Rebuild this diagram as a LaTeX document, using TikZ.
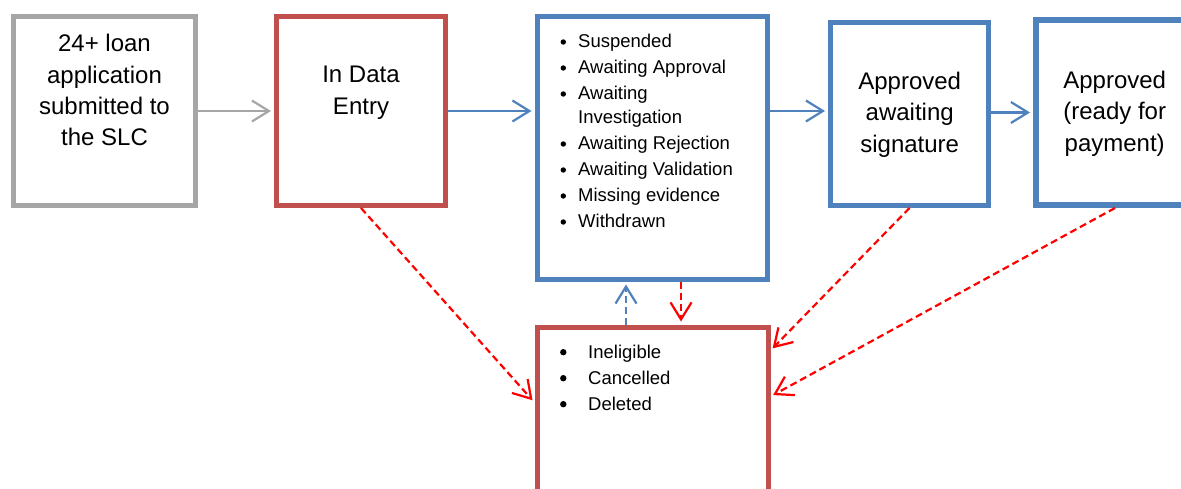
\documentclass[tikz,border=0pt]{standalone}
\usepackage{fontspec}
\setmainfont{Liberation Sans}
\usetikzlibrary{arrows.meta}
\definecolor{stategrey}{HTML}{A6A6A6}
\definecolor{statered}{HTML}{C0504D}
\definecolor{stateblue}{HTML}{4F81BD}
\definecolor{dropred}{HTML}{FF0000}

\begin{document}
\begin{tikzpicture}[x=1pt,y=-1pt,
  statebox/.style={draw,line width=5pt,inner sep=0pt},
  maintext/.style={align=center,anchor=base,inner sep=0pt,font=\fontsize{24pt}{31.3pt}\selectfont},
  listtext/.style={anchor=base west,inner sep=0pt,font=\fontsize{18.5pt}{24pt}\selectfont},
  flow/.style={line width=2.2pt,-{Straight Barb[length=17pt,width=21pt]},shorten >=3pt},
  drop/.style={flow,dropred,dash pattern=on 7pt off 4pt},
  back/.style={flow,stateblue,dash pattern=on 7pt off 4pt}]
\useasboundingbox (0,0) rectangle (1181,489);
\clip (0,0) rectangle (1181,489);
\node[statebox,stategrey,minimum width=182pt,minimum height=189pt] (submitted) at (104.5,111) {};
\node[statebox,statered,minimum width=169pt,minimum height=189pt] (entry) at (361,111) {};
\node[statebox,stateblue,minimum width=230pt,minimum height=262pt] (pending) at (652,148) {};
\node[statebox,stateblue,minimum width=158pt,minimum height=183pt] (signature) at (909.5,114) {};
\node[statebox,stateblue,line width=6pt,minimum width=158pt,minimum height=185pt] (payment) at (1115,112.5) {};
\node[statebox,statered,minimum width=231pt,minimum height=262pt] (closed) at (652.5,458) {};

\node[maintext] (submittedtext) at (104.5,145.7) {24+ loan\\application\\submitted to\\the SLC};
\node[maintext] (entrytext) at (361,114.3) {In Data\\Entry};
\node[maintext] (signaturetext) at (909.7,152.2) {Approved\\awaiting\\signature};
\node[maintext] (paymenttext) at (1114.7,151.2) {Approved\\(ready for\\payment)};

\foreach \y/\txt [count=\i] in {48/Suspended, 74/Awaiting Approval, 100/Awaiting, 124/Investigation,
    150/Awaiting Rejection, 176/Awaiting Validation, 202/Missing evidence, 228/Withdrawn}
  \node[listtext] (pend\i) at (578,\y) {\txt};
\foreach \y in {48,74,100,150,176,202,228}
  \fill (563.3,\y-6) circle[radius=2.7pt];
\foreach \y/\txt [count=\i] in {358/Ineligible, 384/Cancelled, 410/Deleted} {
  \node[listtext] (close\i) at (588,\y) {\txt};
  \fill (563.3,\y-5.8) circle[radius=3.2pt];
}

\draw[flow,stategrey] (submitted.east) -- (entry.west);
\draw[flow,stateblue] (entry.east) -- (entry.east -| pending.west);
\draw[flow,stateblue] (pending.east |- entry.east) -- (signature.west |- entry.east);
\draw[flow,stateblue] (signature.east |- payment.west) -- (payment.west);
\draw[drop] (entry.south) -- ([yshift=-78pt]closed.north west);
\draw[back] ([xshift=-26.5pt]closed.north) -- ([xshift=-26pt]pending.south);
\draw[drop] ([xshift=29pt]pending.south) -- ([xshift=28.5pt]closed.north);
\draw[drop] (signature.south) -- ([yshift=-26pt]closed.north east);
\draw[drop] (payment.south) -- ([yshift=-72pt]closed.north east);
\end{tikzpicture}
\end{document}
